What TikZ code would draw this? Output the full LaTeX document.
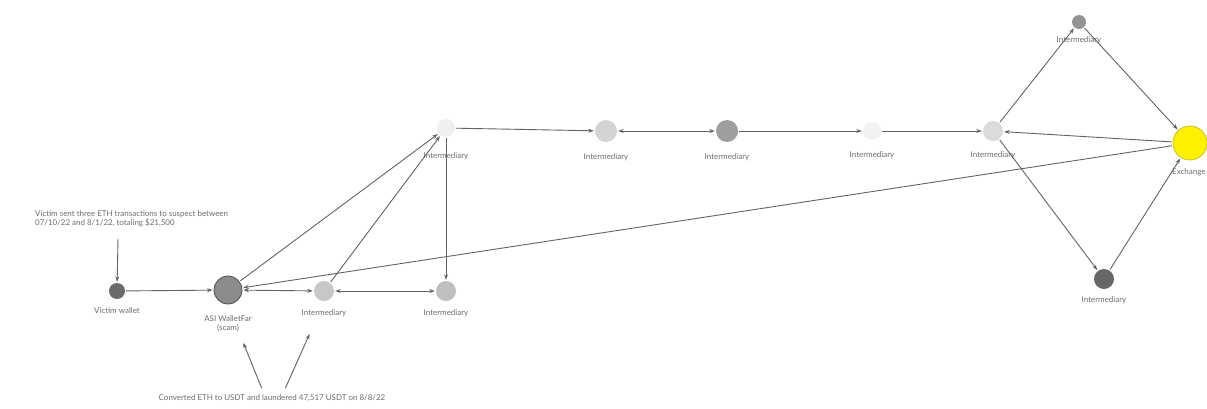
\documentclass[tikz,border=0pt]{standalone}
\usepackage{fontspec}
\setmainfont{Lato}
\usetikzlibrary{arrows.meta}
\definecolor{edgec}{HTML}{636363}
\definecolor{txtc}{HTML}{6E6E6E}
\tikzset{
  nd/.style={circle, draw=none, inner sep=0pt, minimum size=#1},
  lbl/.style={font=\fontsize{8}{9}\selectfont, text=txtc, inner sep=1pt, align=center},
  ann/.style={font=\fontsize{8}{9.5}\selectfont, text=txtc, inner sep=1pt, align=left},
  ed/.style={draw=edgec, line width=0.9pt, -{Stealth[length=5.5pt,width=4pt]}, shorten >=1pt, shorten <=1pt},
  ded/.style={draw=edgec, line width=0.9pt, {Stealth[length=5.5pt,width=4pt]}-{Stealth[length=5.5pt,width=4pt]}, shorten >=1pt, shorten <=1pt},
}
\begin{document}
\begin{tikzpicture}[x=1bp,y=-1bp]
\useasboundingbox (0,0) rectangle (1207,408);
\fill[white] (0,0) rectangle (1207,408);
% nodes
\node[nd=16bp, fill=black!58] (victim) at (117,291) {};
\node[nd=28bp, fill=black!45, draw=black!70, line width=0.8pt] (scam) at (228,290) {};
\node[nd=20bp, fill=black!22] (i1) at (324,291) {};
\node[nd=20bp, fill=black!25] (i2) at (446,291) {};
\node[nd=18bp, fill=black!6] (i3) at (446,128) {};
\node[nd=22bp, fill=black!17] (i4) at (606,131) {};
\node[nd=22bp, fill=black!38] (i5) at (727,131) {};
\node[nd=18bp, fill=black!5] (i6) at (872,131) {};
\node[nd=20bp, fill=black!14] (i7) at (993,131) {};
\node[nd=14bp, fill=black!42] (i8) at (1079,22) {};
\node[nd=20bp, fill=black!60] (i9) at (1104,279) {};
\node[nd=34bp, fill=yellow, draw={rgb,255:red,200;green,190;blue,40}, line width=0.8pt] (ex) at (1190,143) {};
% labels
\node[lbl] (lvictim) at (117,311) {Victim wallet};
\node[lbl] (lscam) at (228,324) {ASI WalletFar\\(scam)};
\node[lbl] (li1) at (324,313) {Intermediary};
\node[lbl] (li2) at (446,313) {Intermediary};
\node[lbl] (li3) at (446,156) {Intermediary};
\node[lbl] (li4) at (606,157) {Intermediary};
\node[lbl] (li5) at (727,157) {Intermediary};
\node[lbl] (li6) at (872,155) {Intermediary};
\node[lbl] (li7) at (993,155) {Intermediary};
\node[lbl] (li8) at (1079,40) {Intermediary};
\node[lbl] (li9) at (1104,300) {Intermediary};
\node[lbl, anchor=west] (lex) at (1171,172) {Exchange};
% annotations
\node[ann, anchor=west] (ann1) at (34,219) {Victim sent three ETH transactions to suspect between\\07/10/22 and 8/1/22, totaling \$21,500};
\node[ann] (ann2) at (272,398) {Converted ETH to USDT and laundered 47,517 USDT on 8/8/22};
\coordinate (a1s) at (118,238);
\coordinate (a2s) at (262,389);
\coordinate (a2e) at (243,342);
\coordinate (a3s) at (285,389);
\coordinate (a3e) at (310,333);
% edges
\draw[ed] (a1s) -- (victim);
\draw[ed] (victim) -- (scam);
\draw[ed] (scam) -- (i3);
\draw[ed] (i1) -- (i3);
\draw[ed] (i3) -- (i2);
\draw[ded] (scam) -- (i1);
\draw[ded] (i1) -- (i2);
\draw[ed] (ex) -- (scam);
\draw[ed] (i3) -- (i4);
\draw[ded] (i4) -- (i5);
\draw[ed] (i5) -- (i6);
\draw[ed] (i6) -- (i7);
\draw[ed] (ex) -- (i7);
\draw[ed] (i7) -- (i8);
\draw[ed] (i8) -- (ex);
\draw[ed] (i7) -- (i9);
\draw[ed] (i9) -- (ex);
\draw[ed] (a2s) -- (a2e);
\draw[ed] (a3s) -- (a3e);
\end{tikzpicture}
\end{document}
